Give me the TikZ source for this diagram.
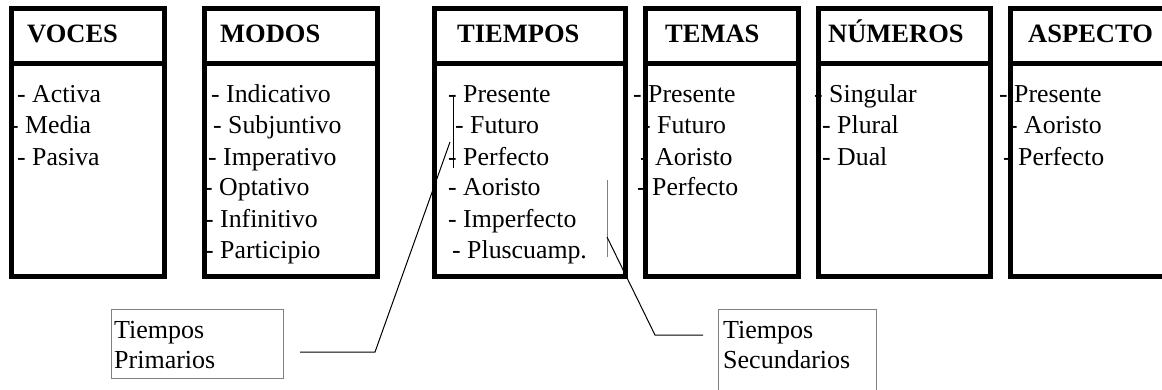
\documentclass[tikz,border=0pt]{standalone}
\usepackage{fontspec}
\setmainfont{Liberation Serif}
\usepackage{tikz}

\begin{document}
\begin{tikzpicture}[x=1pt,y=-1pt,
  box/.style={line width=5pt},
  head/.style={anchor=base west,inner sep=0pt,font=\fontsize{26.5}{30}\selectfont\bfseries},
  item/.style={anchor=base west,inner sep=0pt,font=\fontsize{25.8}{30}\selectfont},
  lbl/.style={draw=gray,line width=1pt,anchor=north west,inner sep=0pt},
  lbltext/.style={anchor=base west,inner sep=0pt,align=left,font=\fontsize{26}{30}\selectfont},
  leader/.style={line width=1pt}]
\useasboundingbox (0,0) rectangle (1162,389);

% columns
\foreach \l/\r in {11.7/164.5, 204.5/377.5, 434.5/625.5, 645.5/798.5, 818.5/990.5, 1010.5/1172}{
  \draw[box] (\l,8.5) rectangle (\r,276);
  \draw[box] (\l,63.5) -- (\r,63.5);
}

% headers
\node[head] (voces) at (27,42) {VOCES};
\node[head] (modos) at (220,42) {MODOS};
\node[head] (tiempos) at (457,42) {TIEMPOS};
\node[head] (temas) at (665,42) {TEMAS};
\node[head] (numeros) at (828,42) {NÚMEROS};
\node[head] (aspecto) at (1028,42) {ASPECTO};

% voces
\node[item] (activa) at (17,102) {- Activa};
\node[item] (media) at (10,133) {- Media};
\node[item] (pasiva) at (17,165) {- Pasiva};

% modos
\node[item] (indic) at (211,102) {- Indicativo};
\node[item] (subj) at (213,133) {- Subjuntivo};
\node[item] (imper) at (208,165) {- Imperativo};
\node[item] (optat) at (204,195) {- Optativo};
\node[item] (infin) at (205,227) {- Infinitivo};
\node[item] (partic) at (205,258) {- Participio};

% tiempos
\node[item] (tpres) at (448,102) {- Presente};
\node[item] (tfut) at (455,133) {- Futuro};
\node[item] (tperf) at (448,165) {- Perfecto};
\node[item] (taor) at (448,195) {- Aoristo};
\node[item] (timperf) at (448,227) {- Imperfecto};
\node[item] (tplusc) at (452,258) {- Pluscuamp.};

% temas
\node[item] (mpres) at (633,102) {- Presente};
\node[item] (mfut) at (642,133) {- Futuro};
\node[item] (maor) at (640,165) {- Aoristo};
\node[item] (mperf) at (637,195) {- Perfecto};

% numeros
\node[item] (sing) at (814,102) {- Singular};
\node[item] (plur) at (822,133) {- Plural};
\node[item] (dual) at (822,165) {- Dual};

% aspecto
\node[item] (apres) at (999,102) {- Presente};
\node[item] (aaor) at (1009,133) {- Aoristo};
\node[item] (aperf) at (1003,165) {- Perfecto};

% labels
\node[lbl,minimum width=172pt,minimum height=69pt] (prim) at (111,309) {};
\node[lbltext] (primtxt) at (114,368) {Tiempos\\Primarios};
\node[lbl,minimum width=158pt,minimum height=90pt] (sec) at (718,309) {};
\node[lbltext] (sectxt) at (723,368) {Tiempos\\Secundarios};

% brackets and leaders
\coordinate (primtop) at (453,97);
\coordinate (primbot) at (453,168);
\coordinate (primmid) at (450,142);
\coordinate (primend) at (300,352);
\draw[leader] (primtop) -- (primbot);
\draw[leader] (primmid) -- (375,352) -- (primend);

\coordinate (sectop) at (607,180);
\coordinate (secbot) at (607,257);
\coordinate (secmid) at (607,237);
\coordinate (secend) at (703,335);
\draw[leader,gray] (sectop) -- (secbot);
\draw[leader] (secmid) -- (655,335) -- (secend);
\end{tikzpicture}
\end{document}
